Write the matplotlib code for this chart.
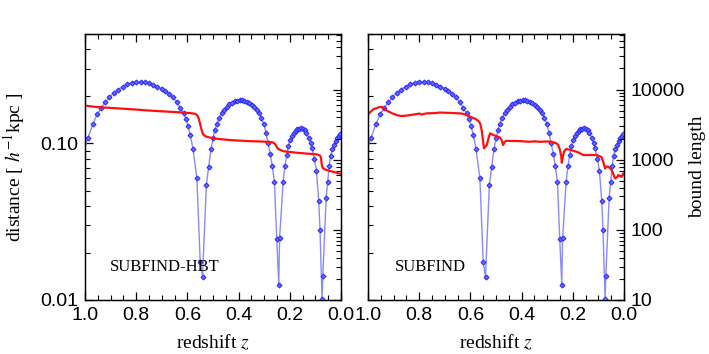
import numpy as np
import matplotlib
matplotlib.use("Agg")
import matplotlib.pyplot as plt
from matplotlib.ticker import LogLocator, MultipleLocator, NullFormatter

# ---------------- data ----------------
# blue: subhalo distance [h^-1 kpc] vs redshift (same in both panels)
z_dist = [1.010, 0.988, 0.969, 0.952, 0.937, 0.921, 0.905, 0.888, 0.870, 0.852,
          0.834, 0.816, 0.799, 0.782, 0.765, 0.749, 0.733, 0.717, 0.701, 0.686,
          0.671, 0.657, 0.641, 0.628, 0.615, 0.605, 0.598, 0.589, 0.578, 0.563,
          0.550, 0.541, 0.526, 0.517, 0.508, 0.500, 0.493, 0.485, 0.476, 0.466,
          0.456, 0.446, 0.436, 0.426, 0.416, 0.406, 0.396, 0.387, 0.378, 0.368,
          0.358, 0.348, 0.338, 0.328, 0.319, 0.311, 0.302, 0.293, 0.285, 0.276,
          0.269, 0.260, 0.251, 0.243, 0.240, 0.226, 0.219, 0.212, 0.206, 0.199,
          0.191, 0.184, 0.177, 0.170, 0.163, 0.156, 0.149, 0.142, 0.135, 0.126,
          0.119, 0.113, 0.104, 0.096, 0.087, 0.082, 0.074, 0.071, 0.058, 0.052,
          0.046, 0.041, 0.034, 0.028, 0.021, 0.015, 0.009, 0.003]
dist = [0.085, 0.109, 0.133, 0.154, 0.168, 0.183, 0.197, 0.210, 0.221, 0.231,
        0.239, 0.244, 0.247, 0.248, 0.246, 0.242, 0.237, 0.231, 0.224, 0.216,
        0.207, 0.197, 0.183, 0.169, 0.156, 0.143, 0.130, 0.114, 0.092, 0.060,
        0.0175, 0.0141, 0.054, 0.071, 0.0915, 0.108, 0.121, 0.134, 0.145, 0.156,
        0.164, 0.171, 0.178, 0.182, 0.186, 0.188, 0.189, 0.189, 0.188, 0.185,
        0.182, 0.177, 0.171, 0.164, 0.156, 0.146, 0.134, 0.117, 0.100, 0.086,
        0.072, 0.057, 0.0245, 0.0125, 0.0248, 0.057, 0.072, 0.084, 0.096, 0.105,
        0.112, 0.117, 0.120, 0.123, 0.124, 0.125, 0.124, 0.121, 0.117, 0.108,
        0.100, 0.093, 0.080, 0.067, 0.043, 0.028, 0.0101, 0.0143, 0.045, 0.057,
        0.072, 0.083, 0.0915, 0.098, 0.103, 0.108, 0.112, 0.115]

# red: bound length, SUBFIND-HBT (left panel)
z_hbt = [1.000, 0.950, 0.889, 0.820, 0.759, 0.700, 0.628, 0.590, 0.576, 0.566,
         0.560, 0.555, 0.550, 0.545, 0.540, 0.533, 0.524, 0.498, 0.432, 0.367,
         0.300, 0.276, 0.266, 0.258, 0.252, 0.246, 0.238, 0.224, 0.171, 0.130,
         0.093, 0.082, 0.078, 0.075, 0.072, 0.065, 0.050, 0.028, 0.000]
bl_hbt = [5900, 5620, 5450, 5250, 5050, 4900, 4730, 4620, 4560, 4450,
          4200, 3800, 3200, 2700, 2350, 2200, 2125, 2010, 1905, 1845,
          1810, 1790, 1760, 1680, 1550, 1430, 1380, 1320, 1255, 1220,
          1190, 1150, 1050, 850, 770, 735, 700, 670, 625]

# red: bound length, SUBFIND (right panel)
z_sf = [1.000, 0.980, 0.960, 0.947, 0.930, 0.905, 0.885, 0.868, 0.850, 0.836,
        0.815, 0.800, 0.790, 0.780, 0.771, 0.740, 0.719, 0.680, 0.641, 0.628,
        0.615, 0.600, 0.582, 0.570, 0.562, 0.556, 0.547, 0.536, 0.528, 0.523,
        0.515, 0.510, 0.495, 0.484, 0.478, 0.472, 0.467, 0.461, 0.440, 0.406,
        0.370, 0.350, 0.328, 0.300, 0.282, 0.265, 0.257, 0.250, 0.245, 0.243,
        0.238, 0.234, 0.226, 0.218, 0.208, 0.198, 0.180, 0.159, 0.130, 0.107,
        0.095, 0.087, 0.080, 0.074, 0.067, 0.061, 0.055, 0.048, 0.040, 0.035,
        0.028, 0.022, 0.015, 0.009, 0.003, 0.000]
bl_sf = [4430, 5220, 5550, 5690, 5100, 4580, 4300, 4190, 4250, 4330,
         4450, 4550, 4400, 4500, 4580, 4620, 4700, 4650, 4580, 4500,
         4330, 4100, 3850, 3600, 3300, 2650, 1453, 1620, 2100, 2380,
         2300, 2245, 2150, 2060, 1905, 1620, 1780, 1860, 1850, 1845,
         1800, 1830, 1800, 1820, 1800, 1720, 1620, 1373, 1100, 906,
         1150, 1310, 1420, 1405, 1380, 1340, 1280, 1165, 1170, 1165,
         1120, 1080, 900, 753, 800, 795, 760, 712, 600, 542,
         560, 605, 580, 570, 640, 620]

panel_names = ["SUBFIND-HBT", "SUBFIND"]
x_ticks = [1.0, 0.8, 0.6, 0.4, 0.2, 0.0]
x_ticklabels = ["1.0", "0.8", "0.6", "0.4", "0.2", "0.0"]
dist_ticks = [0.01, 0.1]
dist_ticklabels = ["0.01", "0.10"]
bl_ticks = [10, 100, 1000, 10000]
bl_ticklabels = ["10", "100", "1000", "10000"]

# ---------------- style ----------------
plt.rcParams["mathtext.fontset"] = "stix"
SANS = "Liberation Sans"
SERIF = "Liberation Serif"
BLUE_LINE = "#8a8aff"
BLUE_MARK = "#2f2fff"
RED = "#ff1010"

fig = plt.figure(figsize=(7.09, 3.54), dpi=100)
axw, axh = 256 / 709, 266 / 354
bottom = 54 / 354
lefts = [85 / 709, 368 / 709]

def style_ticks(ax, **kw):
    ax.tick_params(which="major", direction="in", length=6, width=0.9, **kw)
    ax.tick_params(which="minor", direction="in", length=3.5, width=0.8, **kw)

for i, left in enumerate(lefts):
    ax = fig.add_axes([left, bottom, axw, axh])
    ax.set_xlim(1.0, 0.0)
    ax.set_yscale("log")
    ax.set_ylim(0.01, 0.5)
    ax.plot(z_dist, dist, color=BLUE_LINE, lw=1.0, zorder=2)
    ax.plot(z_dist, dist, ls="none", marker="D", ms=2.5, mfc="#6a6aff",
            mec=BLUE_MARK, mew=0.8, zorder=3)
    ax.set_xticks(x_ticks)
    ax.set_xticklabels(x_ticklabels, fontfamily=SANS, fontsize=14)
    ax.xaxis.set_minor_locator(MultipleLocator(0.05))
    ax.set_yticks(dist_ticks)
    ax.yaxis.set_minor_locator(LogLocator(base=10, subs=np.arange(2, 10)))
    ax.yaxis.set_minor_formatter(NullFormatter())
    if i == 0:
        ax.set_yticklabels(dist_ticklabels, fontfamily=SANS, fontsize=14)
        ax.set_ylabel("distance [ $h^{-1}$kpc ]", fontfamily=SERIF, fontsize=14)
        ax.yaxis.set_label_coords(-0.225, 0.5)
    else:
        ax.set_yticklabels([])
    style_ticks(ax, top=True, right=False, bottom=True, left=True, pad=5)
    ax.set_xlabel("redshift $z$", fontfamily=SERIF, fontsize=14)
    ax.xaxis.set_label_coords(0.5, -0.125)
    ax.text(0.098 if i == 0 else 0.105, 0.125, panel_names[i], transform=ax.transAxes,
            fontfamily=SERIF, fontsize=12, va="center", ha="left")
    for s in ax.spines.values():
        s.set_linewidth(1.0)

    axr = ax.twinx()
    axr.set_yscale("log")
    axr.set_ylim(10, 6.2e4)
    if i == 0:
        axr.plot(z_hbt, bl_hbt, color=RED, lw=1.6)
    else:
        axr.plot(z_sf, bl_sf, color=RED, lw=1.6)
    axr.set_yticks(bl_ticks)
    axr.yaxis.set_minor_locator(LogLocator(base=10, subs=np.arange(2, 10)))
    axr.yaxis.set_minor_formatter(NullFormatter())
    if i == 1:
        axr.set_yticklabels(bl_ticklabels, fontfamily=SANS, fontsize=14)
        axr.set_ylabel("bound length", fontfamily=SERIF, fontsize=14)
        axr.yaxis.set_label_coords(1.255, 0.5)
    else:
        axr.set_yticklabels([])
    style_ticks(axr, right=True, left=False, pad=5)
    axr.set_xlim(1.0, 0.0)

fig.savefig("out.png", dpi=100)
